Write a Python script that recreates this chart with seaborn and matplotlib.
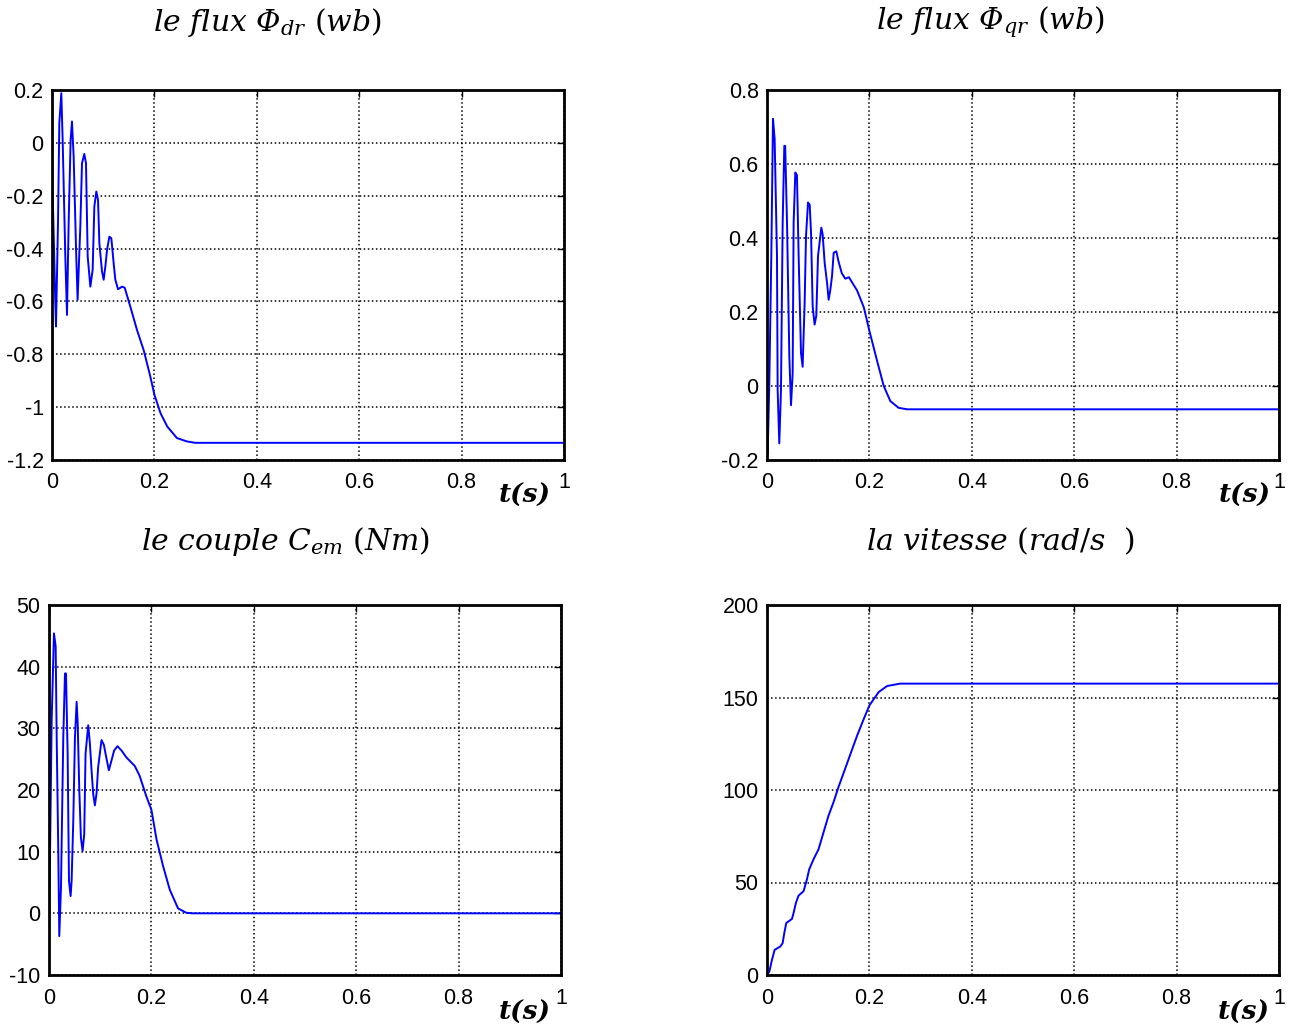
import numpy as np
import pandas as pd
import matplotlib
matplotlib.use("Agg")
import matplotlib.pyplot as plt
import seaborn as sns

# ---- data ----
t_phidr = [0.0, 0.0012, 0.0065, 0.0078, 0.0117, 0.0143, 0.0182, 0.0208, 0.026, 0.0293,
           0.0325, 0.0364, 0.039, 0.0423, 0.047, 0.050, 0.0553, 0.0586, 0.0631, 0.0664,
           0.0697, 0.0749, 0.0794, 0.0827, 0.0866, 0.0899, 0.0925, 0.0977, 0.1009, 0.1042,
           0.1075, 0.112, 0.1159, 0.1204, 0.1237, 0.129, 0.1368, 0.142, 0.153, 0.166,
           0.179, 0.192, 0.200, 0.212, 0.225, 0.244, 0.264, 0.28, 1.0]
phidr = [0.0, -0.178, -0.607, -0.695, -0.304, 0.075, 0.188, 0.011, -0.43, -0.651,
         -0.304, 0.011, 0.081, -0.052, -0.405, -0.594, -0.317, -0.077, -0.042, -0.077,
         -0.43, -0.544, -0.48, -0.241, -0.184, -0.216, -0.38, -0.487, -0.518, -0.468,
         -0.405, -0.355, -0.361, -0.455, -0.518, -0.554, -0.544, -0.548, -0.62, -0.708,
         -0.784, -0.884, -0.953, -1.023, -1.073, -1.117, -1.13, -1.135, -1.135]

t_phiqr = [0.0, 0.0013, 0.0045, 0.0084, 0.0117, 0.0149, 0.0195, 0.0208, 0.024, 0.0273,
           0.0306, 0.0338, 0.0355, 0.0391, 0.0436, 0.0469, 0.0501, 0.052, 0.0553, 0.0585,
           0.0618, 0.0664, 0.0696, 0.0735, 0.0762, 0.0801, 0.0834, 0.086, 0.0892, 0.093,
           0.0963, 0.0996, 0.1061, 0.1087, 0.1126, 0.1173, 0.1204, 0.1237, 0.127, 0.1302,
           0.1354, 0.140, 0.146, 0.153, 0.160, 0.176, 0.189, 0.200, 0.215, 0.228,
           0.241, 0.257, 0.274, 1.0]
phiqr = [-0.15, -0.185, 0.007, 0.351, 0.722, 0.668, 0.351, -0.011, -0.155, -0.011,
         0.441, 0.649, 0.649, 0.441, 0.08, -0.052, 0.034, 0.441, 0.577, 0.57,
         0.351, 0.089, 0.052, 0.224, 0.405, 0.496, 0.49, 0.414, 0.215, 0.166,
         0.19, 0.351, 0.428, 0.41, 0.333, 0.279, 0.233, 0.26, 0.297, 0.36,
         0.364, 0.335, 0.305, 0.29, 0.294, 0.258, 0.213, 0.149, 0.068, 0.0,
         -0.041, -0.059, -0.063, -0.063]

t_cem = [0.0, 0.002, 0.0052, 0.0097, 0.013, 0.015, 0.0182, 0.0201, 0.0234, 0.0279,
         0.0312, 0.0332, 0.0364, 0.039, 0.0422, 0.0442, 0.0474, 0.0507, 0.054, 0.056,
         0.059, 0.0623, 0.0656, 0.0688, 0.0714, 0.0766, 0.0798, 0.0831, 0.0863, 0.0896,
         0.0928, 0.096, 0.1026, 0.1072, 0.1104, 0.1169, 0.1221, 0.1272, 0.1338, 0.1416,
         0.151, 0.1675, 0.177, 0.190, 0.200, 0.210, 0.223, 0.236, 0.252, 0.268,
         0.28, 1.0]
cem = [0.0, 9.6, 31.3, 45.4, 43.3, 28.6, 9.6, -3.7, 4.2, 28.6,
       38.9, 38.9, 25.9, 5.3, 2.8, 5.3, 15.0, 28.6, 34.3, 31.0,
       20.5, 12.3, 10.1, 12.8, 25.9, 30.5, 27.6, 23.2, 19.4, 17.5,
       19.4, 23.7, 28.1, 27.3, 25.9, 23.2, 24.8, 26.4, 27.1, 26.4,
       25.3, 23.9, 22.3, 19.0, 16.8, 12.0, 7.6, 3.8, 0.8, 0.1,
       0.0, 0.0]

t_speed = [0.0, 0.0045, 0.0097, 0.0149, 0.026, 0.0305, 0.0338, 0.0376, 0.0487, 0.0519,
           0.0565, 0.0616, 0.0714, 0.0779, 0.0824, 0.0908, 0.1006, 0.1103, 0.120, 0.1298,
           0.1395, 0.1525, 0.176, 0.189, 0.200, 0.218, 0.2345, 0.26, 1.0]
speed = [0.0, 1.8, 8.2, 13.6, 15.4, 17.2, 22.7, 28.1, 30.3, 33.5,
         39.0, 42.9, 45.3, 51.6, 57.1, 62.5, 67.9, 77.0, 86.0, 93.3,
         101.5, 111.4, 129.4, 138.4, 145.7, 152.9, 156.2, 157.5, 157.5]

titles = [r'$le\ flux\ \mathbf{\Phi}_{dr}\ (wb)$',
          r'$le\ flux\ \mathbf{\Phi}_{qr}\ (wb)$',
          r'$le\ couple\ C_{em}\ (Nm)$',
          r'$la\ vitesse\ (rad/s\ \ )$']
xticks = [0, 0.2, 0.4, 0.6, 0.8, 1]
xtick_labels = ['0', '0.2', '0.4', '0.6', '0.8', '1']
yticks_list = [[-1.2, -1, -0.8, -0.6, -0.4, -0.2, 0, 0.2],
               [-0.2, 0, 0.2, 0.4, 0.6, 0.8],
               [-10, 0, 10, 20, 30, 40, 50],
               [0, 50, 100, 150, 200]]
ytick_labels = [['-1.2', '-1', '-0.8', '-0.6', '-0.4', '-0.2', '0', '0.2'],
                ['-0.2', '0', '0.2', '0.4', '0.6', '0.8'],
                ['-10', '0', '10', '20', '30', '40', '50'],
                ['0', '50', '100', '150', '200']]

sns.set_style("white")
plt.rcParams['font.family'] = ['Liberation Sans', 'DejaVu Sans']
plt.rcParams['mathtext.fontset'] = 'custom'
plt.rcParams['mathtext.rm'] = 'DejaVu Serif'
plt.rcParams['mathtext.it'] = 'DejaVu Serif:italic'
# used only for the italic capital Phi (mathtext keeps Greek capitals upright in \mathit)
plt.rcParams['mathtext.bf'] = 'DejaVu Serif:italic'

fig = plt.figure(figsize=(12.95, 10.29), dpi=100)

W = 512 / 1295
H = 370 / 1029
positions = [
    [52 / 1295, 1 - 460 / 1029, W, H],
    [767 / 1295, 1 - 460 / 1029, W, H],
    [49 / 1295, 1 - 975 / 1029, W, H],
    [767 / 1295, 1 - 975 / 1029, W, H],
]
series = [(t_phidr, phidr), (t_phiqr, phiqr), (t_cem, cem), (t_speed, speed)]
title_pos = [(267, 22), (990, 22), (286, 541), (1001, 541)]
tlabel_pos = [(525, 495), (1245, 495), (525, 1012), (1244, 1012)]

for i in range(4):
    ax = fig.add_axes(positions[i])
    tx, yy = series[i]
    df = pd.DataFrame({'t': tx, 'y': yy})
    sns.lineplot(data=df, x='t', y='y', ax=ax, color='#0000ff', linewidth=1.4,
                 estimator=None, sort=False)
    ax.set_xlim(0, 1)
    yt = yticks_list[i]
    ax.set_ylim(yt[0], yt[-1])
    ax.set_xticks(xticks)
    ax.set_xticklabels(xtick_labels)
    ax.set_yticks(yt)
    ax.set_yticklabels(ytick_labels[i])
    ax.set_xlabel('')
    ax.set_ylabel('')
    ax.grid(True, color='black', linestyle=':', linewidth=1.1)
    ax.tick_params(direction='in', length=5, width=1, top=True, right=True,
                   labelsize=15.5, colors='black')
    ax.tick_params(axis='x', pad=9)
    ax.tick_params(axis='y', pad=6)
    for s in ax.spines.values():
        s.set_visible(True)
        s.set_color('black')
        s.set_linewidth(2)
    fig.text(title_pos[i][0] / 1295, 1 - title_pos[i][1] / 1029, titles[i],
             ha='center', va='center', fontsize=21.5, color='black')
    fig.text(tlabel_pos[i][0] / 1295, 1 - tlabel_pos[i][1] / 1029, 't(s)',
             ha='center', va='center', fontsize=19, family='DejaVu Serif',
             style='italic', weight='bold', color='black')

fig.savefig('out.png', dpi=100)
